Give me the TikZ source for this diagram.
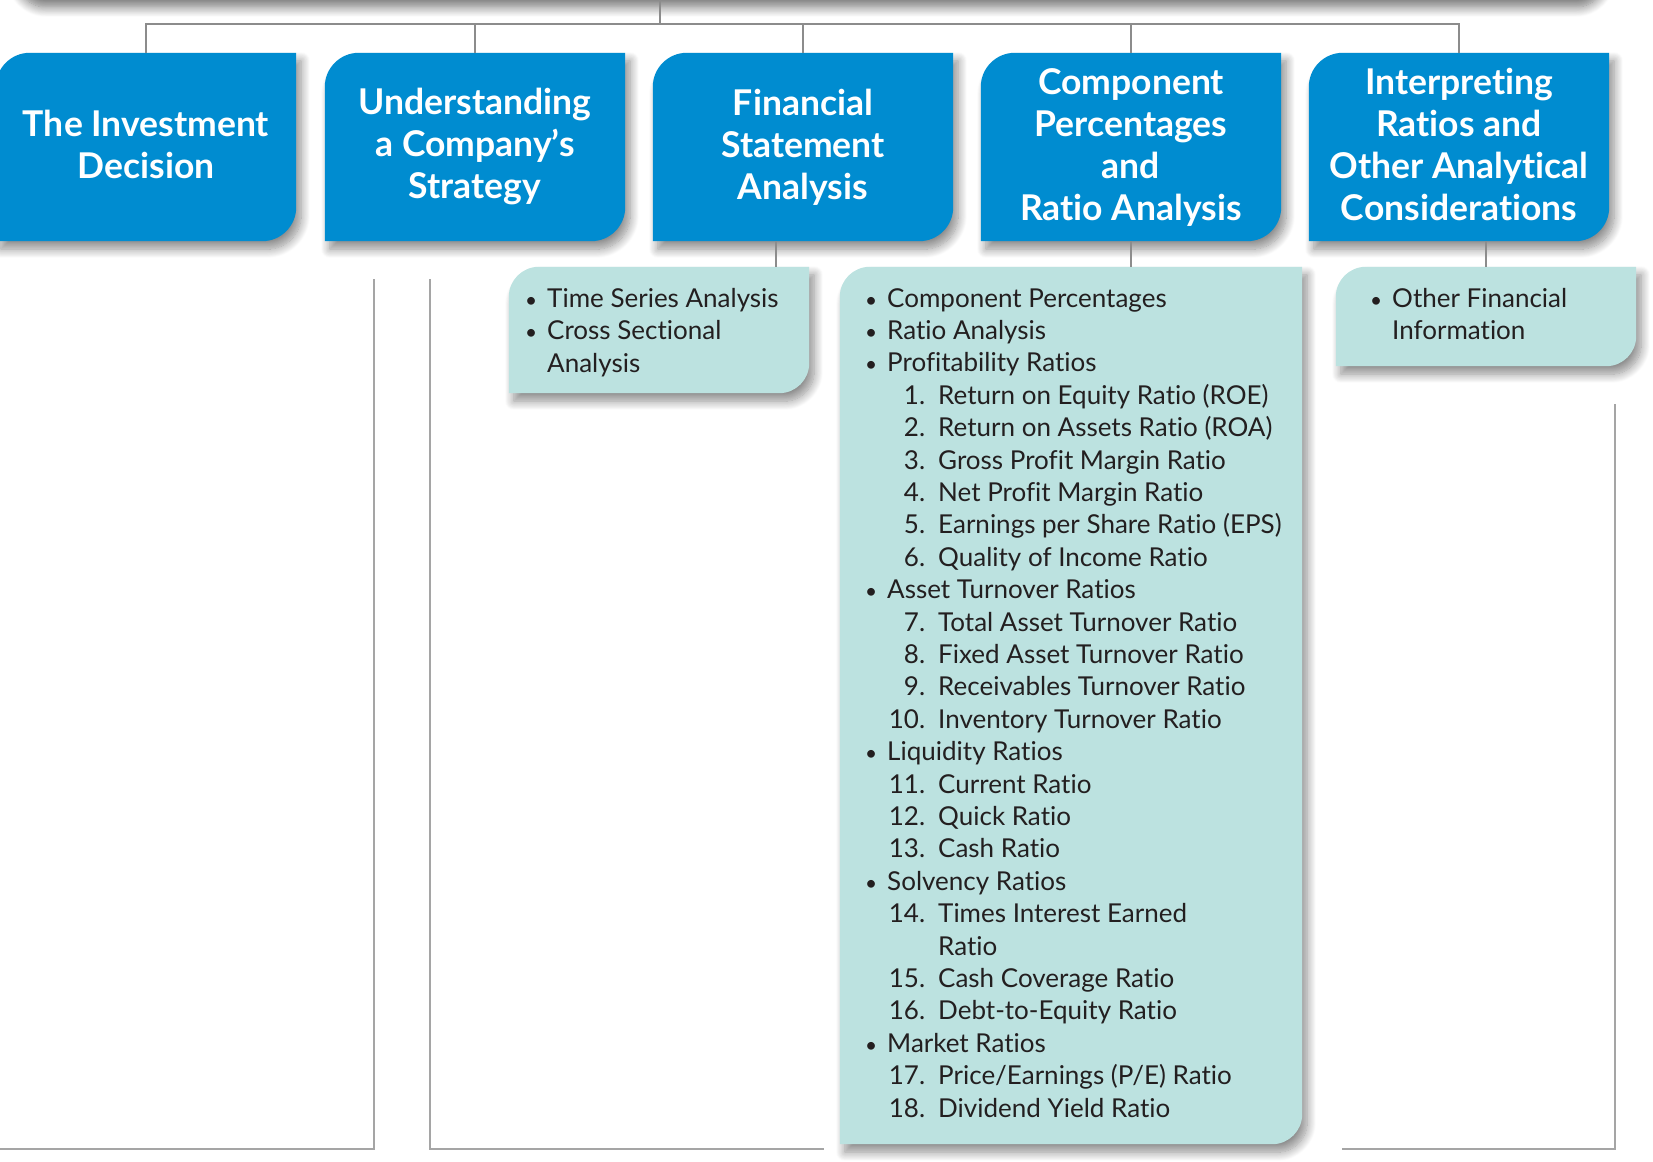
\documentclass[tikz,border=0pt]{standalone}
\usepackage{fontspec}
\setmainfont{Lato}[Ligatures={NoCommon}]
\usetikzlibrary{calc,shadows.blur}
\pgfdeclarelayer{bg}
\pgfsetlayers{bg,main}

\definecolor{hdrblue}{RGB}{0,140,208}
\definecolor{listteal}{RGB}{188,226,224}
\definecolor{linkgrey}{RGB}{140,140,140}
\definecolor{framegrey}{RGB}{165,165,165}
\definecolor{inkdark}{RGB}{35,31,32}

\tikzset{
  slot/.style={rectangle, inner sep=0pt, draw=none},
  hdr/.style={slot, minimum width=300pt, minimum height=188pt, text=white,
    align=center, font=\fontsize{35.5}{42}\selectfont\bfseries},
  softshadow/.style={blur shadow={shadow xshift=5pt, shadow yshift=-8pt,
    shadow blur radius=9pt, shadow blur steps=12, shadow opacity=45}},
  topshadow/.style={blur shadow={shadow xshift=4pt, shadow yshift=-11pt,
    shadow blur radius=10pt, shadow blur steps=12, shadow opacity=55}},
  hdrfill/.style={fill=hdrblue, softshadow},
  listfill/.style={fill=listteal, softshadow},
  listtext/.style={inner sep=0pt, anchor=north west, align=left, text=inkdark,
    font=\fontsize{26}{32.4}\selectfont},
  conn/.style={draw=linkgrey, line width=2.6pt},
  frame/.style={draw=framegrey, line width=1.5pt},
}

% box with rounded top-left and bottom-right corners, built on a node's frame
\newcommand\cornerpath[3]{%
  \path[#3] let \p1=(#1.north west), \p2=(#1.south east) in
    (\x1,\y2) -- (\x1,{\y1-#2})
    .. controls (\x1,{\y1-0.4477*#2}) and ({\x1+0.4477*#2},\y1) .. ({\x1+#2},\y1)
    -- (\x2,\y1) -- (\x2,{\y2+#2})
    .. controls (\x2,{\y2+0.4477*#2}) and ({\x2-0.4477*#2},\y2) .. ({\x2-#2},\y2)
    -- cycle;}

\newcommand\bulletdot{\scalebox{0.8}{\textbullet}}
\newcommand\listbul[1]{\makebox[22pt]{\bulletdot}\hspace{5pt}#1}
\newcommand\listnum[2]{\makebox[65pt][r]{#1}\hspace{13pt}#2}

\begin{document}
\begin{tikzpicture}[x=1pt,y=-1pt]
\useasboundingbox (0,0) rectangle (1653,1161);

% header boxes
\node[hdr] (b1) at (146,147) {The Investment\\Decision\vphantom{y}};
\node[hdr] (b2) at (475,147) {Understanding\\a Company’s\\Strategy};
\node[hdr] (b3) at (803,147) {Financial\\Statement\\Analysis};
\node[hdr] (b4) at (1131,147) {Component\\Percentages\\and\\Ratio Analysis};
\node[hdr] (b5) at (1459,147) {Interpreting\\Ratios and\\Other Analytical\\Considerations\vphantom{y}};

% detail panels
\node[slot, minimum width=300pt, minimum height=126pt] (tA) at (659,330) {};
\node[slot, minimum width=462pt, minimum height=877pt] (tB) at (1071,705.5) {};
\node[slot, minimum width=300pt, minimum height=99pt] (tC) at (1486,316.5) {};

\begin{pgfonlayer}{bg}
  % parent box above the page edge, only its shadow shows
  \path[fill=white, topshadow, rounded corners=30pt] (12,-400) rectangle (1602,-4);
  \cornerpath{b1}{34pt}{hdrfill}
  \cornerpath{b2}{34pt}{hdrfill}
  \cornerpath{b3}{34pt}{hdrfill}
  \cornerpath{b4}{34pt}{hdrfill}
  \cornerpath{b5}{34pt}{hdrfill}
  \cornerpath{tA}{30pt}{listfill}
  \cornerpath{tB}{30pt}{listfill}
  \cornerpath{tC}{30pt}{listfill}
\end{pgfonlayer}

\node[listtext] (txA) at (520,288) {%
  \listbul{Time Series Analysis}\\
  \listbul{Cross Sectional}\\
  \hspace*{27pt}Analysis};

\node[listtext] (txB) at (860,288) {%
  \listbul{Component Percentages}\\
  \listbul{Ratio Analysis}\\
  \listbul{Profitability Ratios}\\
  \listnum{1.}{Return on Equity Ratio (ROE)}\\
  \listnum{2.}{Return on Assets Ratio (ROA)}\\
  \listnum{3.}{Gross Profit Margin Ratio}\\
  \listnum{4.}{Net Profit Margin Ratio}\\
  \listnum{5.}{Earnings per Share Ratio (EPS)}\\
  \listnum{6.}{Quality of Income Ratio}\\
  \listbul{Asset Turnover Ratios}\\
  \listnum{7.}{Total Asset Turnover Ratio}\\
  \listnum{8.}{Fixed Asset Turnover Ratio}\\
  \listnum{9.}{Receivables Turnover Ratio}\\
  \listnum{10.}{Inventory Turnover Ratio}\\
  \listbul{Liquidity Ratios}\\
  \listnum{11.}{Current Ratio}\\
  \listnum{12.}{Quick Ratio}\\
  \listnum{13.}{Cash Ratio}\\
  \listbul{Solvency Ratios}\\
  \listnum{14.}{Times Interest Earned}\\
  \listnum{}{Ratio}\\
  \listnum{15.}{Cash Coverage Ratio}\\
  \listnum{16.}{Debt-to-Equity Ratio}\\
  \listbul{Market Ratios}\\
  \listnum{17.}{Price/Earnings (P/E) Ratio}\\
  \listnum{18.}{Dividend Yield Ratio}};

\node[listtext] (txC) at (1365,288) {%
  \listbul{Other Financial}\\
  \hspace*{27pt}Information};

% tree connectors
\coordinate (top) at (660,-5);
\coordinate (bus) at (0,24);
\draw[conn] (top) -- (top |- bus);
\draw[conn] (b1.north) -- (b1.north |- bus) -- (b5.north |- bus) -- (b5.north);
\draw[conn] (b2.north) -- (b2.north |- bus);
\draw[conn] (b3.north) -- (b3.north |- bus);
\draw[conn] (b4.north) -- (b4.north |- bus);
\draw[conn] ([xshift=123pt]b3.south west) -- ([xshift=123pt]b3.south west |- tA.north);
\draw[conn] (b4.south) -- (b4.south |- tB.north);
\draw[conn] (tC.north) -- (tC.north |- b5.south);

% frames of neighbouring panels
\draw[frame] (374,279) -- (374,1149) -- (-5,1149);
\draw[frame] (430,279) -- (430,1149) -- (824,1149);
\draw[frame] (1615,404) -- (1615,1149) -- (1342,1149);
\end{tikzpicture}
\end{document}
